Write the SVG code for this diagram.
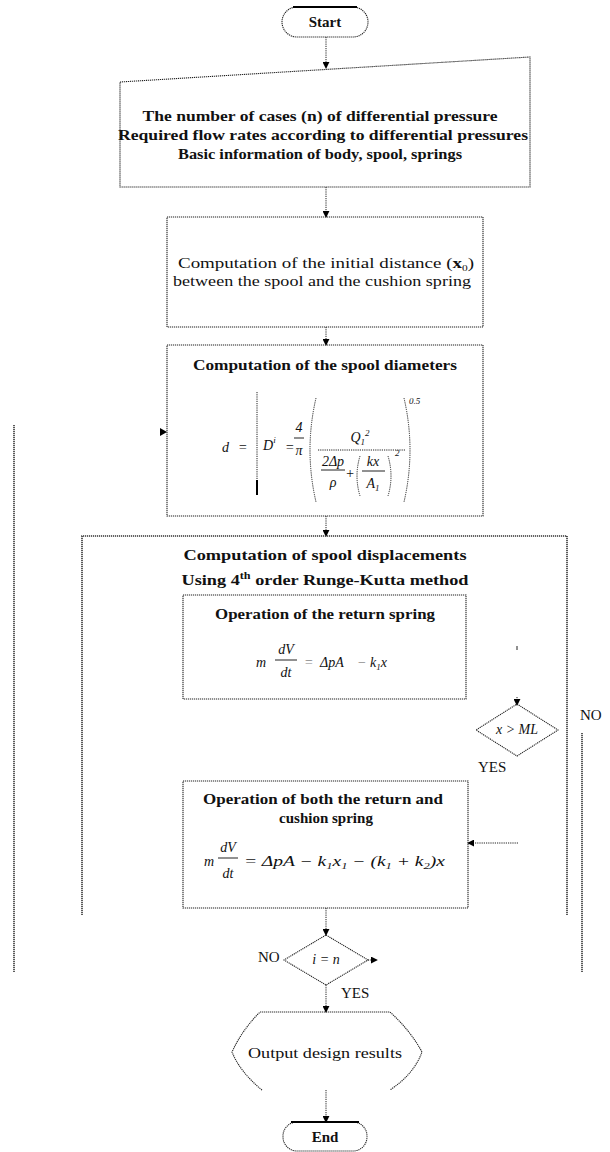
<svg xmlns="http://www.w3.org/2000/svg" width="610" height="1152" viewBox="0 0 610 1152">
<defs>
<style>
.bx{fill:none;stroke:#222;stroke-width:1.1;stroke-dasharray:1.2 0.8}
.bb{fill:none;stroke:#333;stroke-width:1.6;stroke-dasharray:1.2 0.8}
.ln{fill:none;stroke:#222;stroke-width:1;stroke-dasharray:1.2 1}
.sl{fill:none;stroke:#222;stroke-width:1}
.t{font-family:"Liberation Serif","Times New Roman",serif;font-size:15px;fill:#111}
.b{font-weight:bold}
.m{font-family:"Liberation Serif","Times New Roman",serif;font-style:italic;font-size:14px;fill:#111}
.s{font-size:9px}
.lt{fill:#888}
</style>
<marker id="ah" viewBox="0 0 8 8" refX="7" refY="4" markerWidth="7" markerHeight="7" orient="auto" markerUnits="userSpaceOnUse">
<path d="M0,0 L8,4 L0,8 z" fill="#000"/>
</marker>
</defs>
<rect width="610" height="1152" fill="#fff"/>

<g id="connectors">
<path class="ln" d="M326,37 V68" marker-end="url(#ah)"/>
<path class="ln" d="M326,187 V217" marker-end="url(#ah)"/>
<path class="ln" d="M326,327 V345" marker-end="url(#ah)"/>
<path class="ln" d="M326,516 V536" marker-end="url(#ah)"/>
<path d="M160,428 L167,432 L160,436 z" fill="#000"/>
<path class="bb" d="M14,425 V972"/>
<path class="bb" d="M582,733 V972"/>
<path class="sl" d="M517,646 V650"/>
<path class="ln" d="M517,697 V705" marker-end="url(#ah)"/>
<path class="ln" d="M518,843 H468" marker-end="url(#ah)"/>
<path class="ln" d="M326,908 V935" marker-end="url(#ah)"/>
<path class="ln" d="M368,960 H377" marker-end="url(#ah)"/>
<path class="ln" d="M326,985 V1012" marker-end="url(#ah)"/>
<path class="ln" d="M326,1090 V1122" marker-end="url(#ah)"/>
</g>

<g id="start">
<rect class="bx" x="282" y="7" width="86" height="30" rx="15"/>
<path d="M293,7 H357" stroke="#000" stroke-width="2"/>
<text class="t b" x="325" y="27" text-anchor="middle">Start</text>
</g>

<g id="input">
<path class="bx" d="M120,82 L530,57 V187 H120 Z"/>
<text class="t b" x="320" y="121" text-anchor="middle" textLength="355" lengthAdjust="spacingAndGlyphs">The number of cases (n) of differential pressure</text>
<text class="t b" x="323" y="140" text-anchor="middle" textLength="410" lengthAdjust="spacingAndGlyphs">Required flow rates according to differential pressures</text>
<text class="t b" x="320" y="159" text-anchor="middle" textLength="284" lengthAdjust="spacingAndGlyphs">Basic information of body, spool, springs</text>
</g>

<g id="initial-distance">
<rect class="bx" x="167" y="217" width="316" height="110"/>
<text class="t" x="326" y="268" text-anchor="middle" textLength="296" lengthAdjust="spacingAndGlyphs">Computation of the initial distance (<tspan class="b">x</tspan><tspan class="s" dy="3">0</tspan><tspan dy="-3">)</tspan></text>
<text class="t" x="322" y="286" text-anchor="middle" textLength="298" lengthAdjust="spacingAndGlyphs">between the spool and the cushion spring</text>
</g>

<g id="spool-diameters">
<rect class="bx" x="167" y="345" width="316" height="171"/>
<text class="t b" x="325" y="370" text-anchor="middle" textLength="264" lengthAdjust="spacingAndGlyphs">Computation of the spool diameters</text>
<text class="m" x="222" y="452">d</text>
<text class="m" x="238" y="452">=</text>
<path class="ln" d="M257,392 V495"/>
<path d="M257,480 V495" stroke="#000" stroke-width="2"/>
<text class="m" x="263" y="450">D<tspan class="s" dy="-7">i</tspan></text>
<text class="m" x="285" y="452">=</text>
<text class="m" x="299" y="432" text-anchor="middle" font-size="11">4</text>
<path class="sl" d="M294,438 H304"/>
<text class="m" x="299" y="455" text-anchor="middle" font-size="11">π</text>
<path class="ln" d="M316,398 Q304,450 316,502"/>
<text class="m" x="360" y="442" text-anchor="middle" font-size="12">Q<tspan class="s" dy="3">1</tspan><tspan class="s" dy="-9">2</tspan></text>
<path class="ln" d="M318,450 H406"/>
<text class="m" x="333" y="466" text-anchor="middle" font-size="11">2Δp</text>
<path class="sl" d="M321,470 H345"/>
<text class="m" x="333" y="487" text-anchor="middle" font-size="11">ρ</text>
<text class="m" x="350" y="478" text-anchor="middle" font-size="11">+</text>
<path class="ln" d="M360,456 Q354,476 360,496"/>
<text class="m" x="373" y="466" text-anchor="middle" font-size="11">kx</text>
<path class="sl" d="M362,471 H385"/>
<text class="m" x="373" y="488" text-anchor="middle" font-size="11">A<tspan class="s" dy="3">1</tspan></text>
<path class="ln" d="M388,456 Q394,476 388,496"/>
<text class="m s" x="395" y="456">2</text>
<path class="ln" d="M404,398 Q416,450 404,502"/>
<text class="m s" x="409" y="404">0.5</text>
</g>

<g id="spool-displacements">
<path class="bb" d="M82,915 V536 H567 V915"/>
<text class="t b" x="325" y="560" text-anchor="middle" textLength="283" lengthAdjust="spacingAndGlyphs">Computation of spool displacements</text>
<text class="t b" x="325" y="585" text-anchor="middle" textLength="287" lengthAdjust="spacingAndGlyphs">Using 4<tspan font-size="10" dy="-6">th</tspan><tspan dy="6"> order Runge-Kutta method</tspan></text>
</g>

<g id="return-spring">
<rect class="bx" x="183" y="595" width="283" height="104"/>
<text class="t b" x="325" y="619" text-anchor="middle" textLength="220" lengthAdjust="spacingAndGlyphs">Operation of the return spring</text>
<text class="m" x="256" y="667">m</text>
<text class="m" x="286" y="654" text-anchor="middle" font-size="12">dV</text>
<path class="sl" d="M275,660 H297"/>
<text class="m" x="286" y="677" text-anchor="middle" font-size="12">dt</text>
<text class="m lt" x="304" y="667">=</text>
<text class="m" x="320" y="667">ΔpA</text>
<text class="m lt" x="357" y="667">−</text>
<text class="m" x="370" y="667">k<tspan class="s" dy="3">1</tspan><tspan dy="-3">x</tspan></text>
</g>

<g id="decision-x">
<path class="bx" d="M517,704 L558,730 L517,756 L476,730 Z"/>
<text class="m" x="517" y="734" text-anchor="middle" font-size="12">x &gt; ML</text>
<text class="t" x="580" y="720" font-size="12">NO</text>
<text class="t" x="478" y="772" font-size="12">YES</text>
</g>

<g id="both-springs">
<rect class="bx" x="183" y="781" width="285" height="127"/>
<text class="t b" x="323" y="804" text-anchor="middle" textLength="240" lengthAdjust="spacingAndGlyphs">Operation of both the return and</text>
<text class="t b" x="326" y="823" text-anchor="middle">cushion spring</text>
<text class="m" x="204" y="866">m</text>
<text class="m" x="228" y="852" text-anchor="middle" font-size="12">dV</text>
<path class="sl" d="M218,858 H238"/>
<text class="m" x="228" y="878" text-anchor="middle" font-size="12">dt</text>
<text class="m" x="244" y="866" textLength="201" lengthAdjust="spacingAndGlyphs">= ΔpA − k<tspan class="s" dy="3">1</tspan><tspan dy="-3">x</tspan><tspan class="s" dy="3">1</tspan><tspan dy="-3"> − (k</tspan><tspan class="s" dy="3">1</tspan><tspan dy="-3"> + k</tspan><tspan class="s" dy="3">2</tspan><tspan dy="-3">)x</tspan></text>
</g>

<g id="decision-n">
<path class="bx" d="M326,935 L368,960 L326,985 L284,960 Z"/>
<text class="m" x="326" y="964" text-anchor="middle" font-size="12">i = n</text>
<text class="t" x="258" y="962" font-size="12">NO</text>
<text class="t" x="341" y="998" font-size="12">YES</text>
</g>

<g id="output">
<path class="bx" d="M262,1090 Q240,1072 232,1052 Q242,1030 260,1012 H390 Q410,1030 422,1052 Q414,1074 390,1090"/>
<text class="t" x="325" y="1058" text-anchor="middle" textLength="154" lengthAdjust="spacingAndGlyphs">Output design results</text>
</g>

<g id="end">
<rect class="bx" x="283" y="1122" width="84" height="29" rx="14"/>
<path d="M291,1122 H359" stroke="#000" stroke-width="2"/>
<text class="t b" x="325" y="1142" text-anchor="middle">End</text>
</g>
</svg>
